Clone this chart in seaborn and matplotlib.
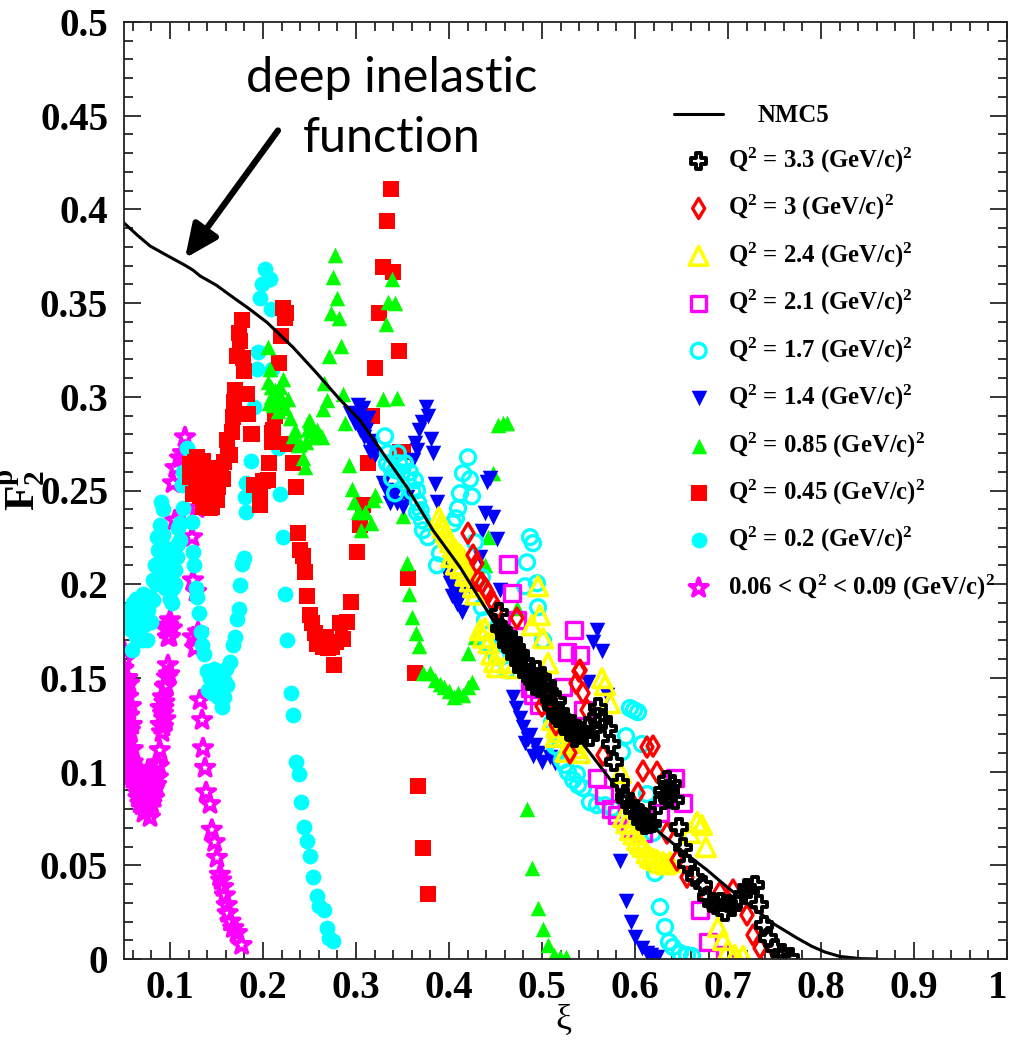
from matplotlib import pyplot as plt
from matplotlib import ticker
import pandas as pd
import seaborn as sns

# values, (xi, F2)
curve = [(0.05, 0.393), (0.065, 0.3862), (0.0785, 0.3805), (0.095, 0.3759), (0.1161, 0.3702), (0.125, 0.3675), (0.1323, 0.3645),
         (0.15, 0.3595), (0.1677, 0.3531), (0.185, 0.347), (0.2043, 0.3397), (0.2323, 0.3264), (0.258, 0.3125),
         (0.2806, 0.2997), (0.3043, 0.2875), (0.329, 0.2699), (0.3548, 0.2517), (0.3828, 0.2288), (0.4118, 0.2091),
         (0.4473, 0.1808), (0.475, 0.1605), (0.5, 0.143), (0.525, 0.127), (0.5516, 0.1099), (0.5763, 0.0939), (0.6, 0.081),
         (0.6269, 0.0672), (0.65, 0.058), (0.6774, 0.0475), (0.7, 0.038), (0.7204, 0.0299), (0.75, 0.0185), (0.7742, 0.0112),
         (0.79, 0.0068), (0.8043, 0.0037), (0.82, 0.0014), (0.842, 0.0002), (0.86, 0.0)]

stars = [(0.05, 0.165), (0.052, 0.16), (0.05, 0.155), (0.054, 0.15), (0.052, 0.145), (0.05, 0.14), (0.055, 0.14),
         (0.053, 0.135), (0.05, 0.13), (0.056, 0.13), (0.053, 0.125), (0.05, 0.12), (0.057, 0.122), (0.054, 0.115),
         (0.05, 0.11), (0.058, 0.112), (0.055, 0.105), (0.052, 0.1), (0.06, 0.105), (0.058, 0.098), (0.062, 0.1),
         (0.065, 0.097), (0.07, 0.09), (0.064, 0.092), (0.068, 0.1), (0.072, 0.098), (0.076, 0.1), (0.08, 0.099),
         (0.084, 0.098), (0.086, 0.1045), (0.066, 0.086), (0.07, 0.082), (0.074, 0.085), (0.078, 0.09), (0.082, 0.09),
         (0.072, 0.078), (0.076, 0.08), (0.0785, 0.0757), (0.08, 0.083), (0.085, 0.093), (0.089, 0.1115),
         (0.0914, 0.121), (0.0925, 0.131), (0.0925, 0.1397), (0.0946, 0.1451), (0.0968, 0.1504), (0.0978, 0.1568),
         (0.09, 0.134), (0.094, 0.137), (0.0978, 0.1717), (0.102, 0.1765), (0.1, 0.1808), (0.096, 0.176),
         (0.1032, 0.2539), (0.1054, 0.2341), (0.1108, 0.2672), (0.1161, 0.2784), (0.106, 0.262), (0.114, 0.27),
         (0.129, 0.2405), (0.1237, 0.2251), (0.1247, 0.2021), (0.128, 0.196), (0.1247, 0.1717), (0.1301, 0.1744),
         (0.127, 0.166), (0.1323, 0.1381), (0.1345, 0.1275), (0.1355, 0.1125), (0.1377, 0.102), (0.1388, 0.089),
         (0.143, 0.0827), (0.145, 0.069), (0.148, 0.0624), (0.1505, 0.054), (0.1537, 0.045), (0.157, 0.0384),
         (0.161, 0.0288), (0.162, 0.0245), (0.168, 0.0165), (0.172, 0.0139), (0.177, 0.0075), (0.155, 0.042),
         (0.159, 0.034), (0.165, 0.02), (0.051, 0.15), (0.056, 0.147), (0.051, 0.135), (0.058, 0.135), (0.052, 0.127),
         (0.059, 0.125), (0.051, 0.117), (0.055, 0.11), (0.053, 0.107), (0.06, 0.112), (0.056, 0.1), (0.06, 0.096),
         (0.063, 0.094), (0.067, 0.092), (0.069, 0.095), (0.071, 0.085), (0.073, 0.092), (0.075, 0.088), (0.077, 0.095),
         (0.079, 0.086), (0.081, 0.095), (0.083, 0.086), (0.074, 0.081), (0.068, 0.083), (0.087, 0.097), (0.088, 0.103),
         (0.0925, 0.124), (0.095, 0.128), (0.09, 0.125), (0.093, 0.134), (0.096, 0.146), (0.099, 0.152), (0.1, 0.172),
         (0.098, 0.178), (0.1, 0.176)]

dots = [(0.059, 0.165), (0.06, 0.181), (0.06, 0.19), (0.057, 0.176), (0.063, 0.172), (0.066, 0.18), (0.07, 0.17),
        (0.075, 0.17), (0.071, 0.195), (0.066, 0.19), (0.076, 0.186), (0.082, 0.1915), (0.072, 0.178), (0.058, 0.185),
        (0.068, 0.185), (0.08, 0.18), (0.0903, 0.2437), (0.092, 0.24), (0.089, 0.2315), (0.0925, 0.226), (0.087, 0.218),
        (0.0968, 0.2165), (0.084, 0.21), (0.082, 0.202), (0.092, 0.21), (0.096, 0.205), (0.099, 0.198), (0.1, 0.192),
        (0.09, 0.2), (0.102, 0.19), (0.103, 0.198), (0.1054, 0.2075), (0.1075, 0.2144), (0.111, 0.2235), (0.111, 0.2325),
        (0.1237, 0.233), (0.114, 0.2405), (0.113, 0.253), (0.114, 0.26), (0.1183, 0.2725), (0.1247, 0.217), (0.126, 0.21),
        (0.128, 0.198), (0.129, 0.193), (0.131, 0.1845), (0.133, 0.1744), (0.1345, 0.1675), (0.1365, 0.1627),
        (0.14, 0.1536), (0.141, 0.1435), (0.145, 0.142), (0.1484, 0.147), (0.152, 0.14), (0.156, 0.1344), (0.158, 0.14),
        (0.161, 0.146), (0.1645, 0.1584), (0.1677, 0.1675), (0.17, 0.172), (0.172, 0.1813), (0.174, 0.1867),
        (0.175, 0.1995), (0.177, 0.211), (0.1796, 0.2139), (0.182, 0.2384), (0.181, 0.2464), (0.182, 0.254), (0.187, 0.266),
        (0.19, 0.2944), (0.1935, 0.3147), (0.1946, 0.3237), (0.1968, 0.3525), (0.199, 0.36), (0.202, 0.368), (0.2075, 0.3627),
        (0.2086, 0.347), (0.2097, 0.315), (0.216, 0.2725), (0.218, 0.248), (0.2215, 0.225), (0.2237, 0.195), (0.226, 0.17),
        (0.23, 0.142), (0.232, 0.13), (0.2355, 0.105), (0.2387, 0.0987), (0.241, 0.0837), (0.244, 0.0704), (0.2473, 0.063),
        (0.2505, 0.055), (0.2538, 0.0437), (0.258, 0.0336), (0.26, 0.0283), (0.2656, 0.026), (0.2688, 0.0165), (0.271, 0.011),
        (0.275, 0.0096), (0.056, 0.18), (0.062, 0.183), (0.065, 0.175), (0.069, 0.18), (0.074, 0.19), (0.078, 0.18),
        (0.063, 0.192), (0.07, 0.187), (0.079, 0.193), (0.055, 0.186), (0.086, 0.225), (0.09, 0.215), (0.085, 0.2),
        (0.094, 0.22), (0.091, 0.205), (0.097, 0.21), (0.105, 0.2), (0.108, 0.221), (0.109, 0.23), (0.095, 0.198),
        (0.143, 0.15), (0.147, 0.155), (0.15, 0.145), (0.153, 0.148), (0.155, 0.142), (0.158, 0.149), (0.16, 0.155)]

red_squares = [(0.3375, 0.4107), (0.3333, 0.3936), (0.329, 0.369), (0.3395, 0.3664), (0.3247, 0.3445), (0.3462, 0.3243),
               (0.3204, 0.3152), (0.3172, 0.29), (0.3473, 0.2704), (0.313, 0.2645), (0.3505, 0.2704), (0.1774, 0.3408),
               (0.1742, 0.334), (0.175, 0.33), (0.172, 0.3216), (0.1785, 0.3205), (0.1796, 0.314), (0.17, 0.3035),
               (0.1828, 0.3013), (0.169, 0.297), (0.1677, 0.289), (0.1839, 0.2907), (0.1667, 0.281), (0.1613, 0.2768),
               (0.1624, 0.2688), (0.188, 0.28), (0.2215, 0.3472), (0.2247, 0.3445), (0.2237, 0.342), (0.2194, 0.3323),
               (0.2172, 0.318), (0.213, 0.2896), (0.2108, 0.2821), (0.2097, 0.2757), (0.2269, 0.275), (0.2065, 0.2645),
               (0.2323, 0.2645), (0.122, 0.264), (0.127, 0.265), (0.129, 0.268), (0.135, 0.26), (0.14, 0.262), (0.145, 0.26),
               (0.122, 0.257), (0.128, 0.255), (0.135, 0.253), (0.14, 0.252), (0.147, 0.254), (0.125, 0.248), (0.132, 0.247),
               (0.139, 0.245), (0.145, 0.247), (0.135, 0.241), (0.1645, 0.2688), (0.187, 0.28), (0.2097, 0.2805),
               (0.2355, 0.2517), (0.2054, 0.2555), (0.19, 0.2528), (0.1968, 0.249), (0.1968, 0.2421), (0.2376, 0.2272),
               (0.24, 0.218), (0.243, 0.215), (0.2452, 0.2064), (0.2473, 0.1936), (0.2505, 0.1835), (0.2527, 0.1792),
               (0.256, 0.1739), (0.2613, 0.169), (0.2645, 0.1664), (0.2742, 0.1664), (0.286, 0.1707), (0.2828, 0.1792),
               (0.2903, 0.1797), (0.2946, 0.1904), (0.2763, 0.1568), (0.3011, 0.217), (0.3075, 0.2421), (0.3043, 0.2315),
               (0.356, 0.2032), (0.3634, 0.1525), (0.3667, 0.0923), (0.372, 0.0592), (0.3774, 0.0347), (0.131, 0.262),
               (0.136, 0.266), (0.125, 0.26), (0.142, 0.256), (0.13, 0.251), (0.137, 0.249), (0.268, 0.172), (0.27, 0.166),
               (0.278, 0.169), (0.258, 0.168), (0.2, 0.255), (0.15, 0.26), (0.155, 0.262), (0.158, 0.265), (0.152, 0.252),
               (0.157, 0.256), (0.15, 0.245), (0.145, 0.241), (0.143, 0.2405)]

green = [(0.2774, 0.3755), (0.2753, 0.3637), (0.2796, 0.3525), (0.2731, 0.3445), (0.2817, 0.342), (0.2839, 0.327),
         (0.271, 0.3216), (0.3387, 0.3627), (0.3344, 0.3504), (0.342, 0.35), (0.3323, 0.3387), (0.329, 0.2987), (0.344, 0.2992),
         (0.2054, 0.3264), (0.2075, 0.3147), (0.2215, 0.3093), (0.2054, 0.3077), (0.209, 0.305), (0.218, 0.305),
         (0.2086, 0.2997), (0.2269, 0.2987), (0.215, 0.299), (0.2108, 0.2955), (0.2237, 0.2939), (0.229, 0.2885),
         (0.2495, 0.2875), (0.2344, 0.2821), (0.248, 0.283), (0.2613, 0.2795), (0.255, 0.2785), (0.2398, 0.275), (0.243, 0.2672),
         (0.2452, 0.2624), (0.2656, 0.3072), (0.2688, 0.2981), (0.2645, 0.2933), (0.286, 0.3013), (0.2925, 0.2635),
         (0.2882, 0.2859), (0.2505, 0.2864), (0.2635, 0.2784), (0.2957, 0.2507), (0.2978, 0.2437), (0.3204, 0.2475),
         (0.3183, 0.245), (0.3022, 0.2384), (0.3097, 0.2384), (0.3161, 0.2325), (0.3054, 0.2288), (0.3505, 0.2363),
         (0.4527, 0.2848), (0.458, 0.2859), (0.4624, 0.2859), (0.4473, 0.2592), (0.442, 0.225), (0.4387, 0.21),
         (0.3548, 0.2112), (0.357, 0.1947), (0.3602, 0.1824), (0.3645, 0.1739), (0.3677, 0.1669), (0.372, 0.1525),
         (0.3796, 0.1525), (0.385, 0.149), (0.39, 0.147), (0.395, 0.145), (0.4, 0.143), (0.405, 0.14), (0.41, 0.142),
         (0.415, 0.141), (0.42, 0.145), (0.425, 0.148), (0.4204, 0.1632), (0.428, 0.1717), (0.473, 0.1872),
         (0.4839, 0.08), (0.4892, 0.0485), (0.4957, 0.0272), (0.5011, 0.016), (0.5065, 0.0075), (0.5129, 0.002),
         (0.5194, 0.001), (0.5258, 0.001), (0.2065, 0.2965), (0.2125, 0.3035), (0.2165, 0.2925), (0.2205, 0.2985),
         (0.2325, 0.279), (0.2375, 0.2745), (0.252, 0.2815), (0.2465, 0.276), (0.2585, 0.2825)]

blue = [(0.3075, 0.2939), (0.2935, 0.2912), (0.3129, 0.2885), (0.2989, 0.2859), (0.3043, 0.2821), (0.3172, 0.2741),
        (0.3204, 0.2688), (0.3613, 0.2661), (0.3753, 0.2944), (0.3774, 0.29), (0.371, 0.2864), (0.3677, 0.2821),
        (0.3806, 0.2773), (0.3634, 0.2752), (0.3656, 0.2715), (0.3828, 0.2699), (0.385, 0.2533), (0.3871, 0.2437),
        (0.329, 0.2539), (0.3366, 0.2432), (0.3505, 0.2411), (0.342, 0.2485), (0.3548, 0.2464), (0.444, 0.2565),
        (0.4409, 0.2544), (0.4387, 0.2379), (0.4473, 0.2357), (0.4355, 0.2283), (0.4516, 0.224), (0.4333, 0.2144),
        (0.399, 0.2085), (0.4011, 0.2005), (0.4065, 0.1968), (0.415, 0.1979), (0.4097, 0.1925), (0.4226, 0.1979),
        (0.414, 0.1851), (0.4548, 0.1968), (0.4688, 0.1397), (0.472, 0.1339), (0.4763, 0.1285), (0.4796, 0.1237),
        (0.4871, 0.1195), (0.4817, 0.1152), (0.4925, 0.1141), (0.4957, 0.1099), (0.5, 0.1051), (0.5086, 0.1077),
        (0.514, 0.1045), (0.5591, 0.1755), (0.5548, 0.1691), (0.5645, 0.1643), (0.5495, 0.1477), (0.5699, 0.1408),
        (0.5839, 0.0523), (0.5903, 0.0309), (0.5957, 0.0197), (0.6, 0.0117), (0.6075, 0.0059), (0.6129, 0.0032),
        (0.617, 0.002), (0.6237, 0.001), (0.3005, 0.2905), (0.3025, 0.2955), (0.3065, 0.2875), (0.3105, 0.2825),
        (0.3085, 0.2785), (0.3135, 0.2765), (0.3155, 0.2705), (0.3325, 0.2505), (0.3385, 0.2465), (0.3445, 0.2435),
        (0.3985, 0.2045), (0.4035, 0.1935), (0.4085, 0.1895), (0.4125, 0.1935), (0.4845, 0.1175), (0.4905, 0.1085)]

open_circles = [(0.3312, 0.2789), (0.3344, 0.2699), (0.345, 0.2699), (0.3333, 0.2645), (0.3527, 0.2645), (0.342, 0.2608),
                (0.358, 0.2597), (0.3387, 0.2565), (0.3634, 0.2555), (0.342, 0.2485), (0.3656, 0.2501), (0.3667, 0.2437),
                (0.3656, 0.2384), (0.371, 0.2341), (0.372, 0.2288), (0.3774, 0.2251), (0.3871, 0.2101), (0.3903, 0.2165),
                (0.4204, 0.2677), (0.415, 0.2592), (0.4226, 0.256), (0.4118, 0.2485), (0.4247, 0.2469), (0.4097, 0.2405),
                (0.4075, 0.2352), (0.4043, 0.2325), (0.428, 0.2224), (0.4871, 0.2251), (0.4903, 0.2219), (0.4839, 0.2117),
                (0.4817, 0.1989), (0.4946, 0.2005), (0.4957, 0.1877), (0.5011, 0.1701), (0.4355, 0.2037), (0.4355, 0.1877),
                (0.4387, 0.1808), (0.442, 0.1685), (0.4516, 0.1611), (0.4624, 0.1541), (0.5946, 0.1339), (0.5989, 0.1328),
                (0.6032, 0.1317), (0.5903, 0.1189), (0.6075, 0.1147), (0.586, 0.1104), (0.6129, 0.088), (0.5108, 0.1264),
                (0.514, 0.1136), (0.5215, 0.1061), (0.528, 0.0997), (0.5376, 0.0987), (0.5387, 0.0928), (0.5441, 0.0912),
                (0.5516, 0.0837), (0.5591, 0.0821), (0.5677, 0.0821), (0.5753, 0.0805), (0.6194, 0.0672), (0.6215, 0.0459),
                (0.6269, 0.0277), (0.6323, 0.0171), (0.6366, 0.0091), (0.6409, 0.0064), (0.6484, 0.0032), (0.6559, 0.0021),
                (0.6613, 0.0016), (0.3375, 0.2625), (0.3465, 0.2645), (0.3495, 0.2595), (0.3555, 0.2555), (0.3605, 0.2495),
                (0.3695, 0.2395), (0.5185, 0.1125), (0.5245, 0.1035), (0.5335, 0.0955)]

open_squares = [(0.4634, 0.2107), (0.4677, 0.1952), (0.473, 0.1808), (0.5344, 0.1755), (0.5269, 0.1637), (0.5409, 0.1621),
                (0.4871, 0.1445), (0.4903, 0.1408), (0.4968, 0.1355), (0.5226, 0.1451), (0.5441, 0.1328), (0.5591, 0.0965),
                (0.5667, 0.0875), (0.5742, 0.08), (0.5806, 0.0768), (0.5946, 0.0699), (0.6086, 0.0672), (0.643, 0.0965),
                (0.6516, 0.0832), (0.6269, 0.0779), (0.67, 0.0261), (0.6785, 0.0091), (0.6968, 0.0021)]

open_triangles = [(0.3892, 0.2357), (0.3935, 0.2301), (0.399, 0.2251), (0.4043, 0.2197), (0.4097, 0.2165), (0.415, 0.2139),
                  (0.4204, 0.2059), (0.4258, 0.1984), (0.4957, 0.1989), (0.4978, 0.1835), (0.4892, 0.1781), (0.5011, 0.1712),
                  (0.5065, 0.1579), (0.4387, 0.1765), (0.4333, 0.1755), (0.4548, 0.1648), (0.4634, 0.1579), (0.4688, 0.1552),
                  (0.4516, 0.1557), (0.5108, 0.1275), (0.5194, 0.1211), (0.5301, 0.1152), (0.5409, 0.1099), (0.5645, 0.1499),
                  (0.5677, 0.1461), (0.5731, 0.1365), (0.5849, 0.0992), (0.6667, 0.0731), (0.672, 0.0715), (0.6591, 0.0672),
                  (0.6763, 0.0597), (0.5871, 0.0757), (0.5946, 0.0688), (0.6022, 0.0635), (0.6086, 0.0597), (0.6161, 0.0544),
                  (0.6237, 0.0528), (0.6301, 0.0517), (0.6376, 0.0517), (0.6892, 0.0171), (0.6946, 0.0101), (0.7, 0.0048),
                  (0.7075, 0.0021), (0.7161, 0.0016), (0.3915, 0.2325), (0.3965, 0.2275), (0.4015, 0.2225), (0.4065, 0.2185),
                  (0.4025, 0.2145), (0.4075, 0.2105), (0.4125, 0.2085), (0.4175, 0.2045), (0.4225, 0.2015), (0.4125, 0.2155),
                  (0.4285, 0.1945), (0.4365, 0.1715), (0.4425, 0.1685), (0.4455, 0.1625), (0.4485, 0.1585), (0.5155, 0.1235),
                  (0.5245, 0.1185), (0.5355, 0.1125), (0.5145, 0.1185), (0.5255, 0.1105), (0.5905, 0.0725), (0.5985, 0.0665),
                  (0.6055, 0.0615), (0.6125, 0.0565), (0.6195, 0.0535), (0.6265, 0.0515), (0.6335, 0.0505)]

diamonds = [(0.4204, 0.2272), (0.4258, 0.2155), (0.43, 0.2112), (0.4312, 0.2021), (0.442, 0.1952), (0.4473, 0.1904),
            (0.455, 0.178), (0.473, 0.1819), (0.47, 0.165), (0.485, 0.15), (0.49, 0.152), (0.5, 0.135), (0.5054, 0.1365),
            (0.515, 0.125), (0.52, 0.128), (0.53, 0.11), (0.5409, 0.1541), (0.5398, 0.1536), (0.5366, 0.1472), (0.5441, 0.1419),
            (0.5484, 0.1328), (0.5656, 0.1088), (0.6129, 0.1131), (0.6194, 0.1136), (0.6086, 0.1003), (0.6237, 0.0997),
            (0.6032, 0.0885), (0.6344, 0.0672), (0.6452, 0.0528), (0.6559, 0.0437), (0.6774, 0.0331), (0.6914, 0.0357),
            (0.7054, 0.0368), (0.7204, 0.0235), (0.7269, 0.0128), (0.7344, 0.0059), (0.7419, 0.001), (0.4355, 0.2005),
            (0.4395, 0.1975), (0.4505, 0.1855), (0.4785, 0.1625), (0.4965, 0.1485), (0.5085, 0.1395)]

crosses = [(0.4538, 0.1851), (0.4548, 0.1765), (0.46, 0.172), (0.462, 0.168), (0.4688, 0.1701), (0.472, 0.166),
           (0.4763, 0.1632), (0.48, 0.158), (0.485, 0.152), (0.49, 0.148), (0.4946, 0.1541), (0.5, 0.145), (0.505, 0.142),
           (0.5054, 0.1472), (0.51, 0.135), (0.515, 0.13), (0.5161, 0.1381), (0.52, 0.132), (0.525, 0.128), (0.5269, 0.1259),
           (0.53, 0.122), (0.535, 0.118), (0.5409, 0.1211), (0.545, 0.12), (0.5516, 0.1184), (0.5602, 0.1344), (0.5591, 0.1291),
           (0.5656, 0.1275), (0.571, 0.1232), (0.5742, 0.1147), (0.5774, 0.1051), (0.5839, 0.0939), (0.5892, 0.0864),
           (0.59, 0.085), (0.5978, 0.0795), (0.6, 0.08), (0.605, 0.078), (0.6086, 0.0757), (0.612, 0.075), (0.615, 0.072),
           (0.6183, 0.0725), (0.6344, 0.0955), (0.6376, 0.0901), (0.6301, 0.0901), (0.643, 0.0848), (0.6247, 0.0821),
           (0.6473, 0.0704), (0.6516, 0.0597), (0.6559, 0.0507), (0.6645, 0.0437), (0.6731, 0.0395), (0.6774, 0.0331),
           (0.6828, 0.0299), (0.6968, 0.0251), (0.7043, 0.0277), (0.7108, 0.0315), (0.7204, 0.0379), (0.729, 0.0395),
           (0.7333, 0.0293), (0.7387, 0.0181), (0.7431, 0.0112), (0.7505, 0.0059), (0.7581, 0.0032), (0.7667, 0.001),
           (0.4585, 0.1755), (0.4635, 0.1725), (0.4665, 0.1655), (0.4705, 0.1615), (0.4745, 0.1585), (0.4785, 0.1545),
           (0.4825, 0.1585), (0.4875, 0.1495), (0.4925, 0.1455), (0.4975, 0.1505), (0.5025, 0.1415), (0.5075, 0.1425),
           (0.5125, 0.1345), (0.5175, 0.1285), (0.5225, 0.1255), (0.5285, 0.1215), (0.5325, 0.1255), (0.5385, 0.1195),
           (0.5485, 0.1245), (0.5555, 0.1225), (0.5945, 0.0825), (0.6025, 0.0765), (0.6065, 0.0735), (0.6105, 0.0715),
           (0.6355, 0.0855), (0.6405, 0.0935), (0.6865, 0.0285), (0.6915, 0.0305), (0.7005, 0.0295), (0.7165, 0.0345)]

x_ticks = [0.1, 0.2, 0.3, 0.4, 0.5, 0.6, 0.7, 0.8, 0.9, 1.0]
x_labels = ['0.1', '0.2', '0.3', '0.4', '0.5', '0.6', '0.7', '0.8', '0.9', '1']
y_ticks = [0, 0.05, 0.1, 0.15, 0.2, 0.25, 0.3, 0.35, 0.4, 0.45, 0.5]
y_labels = ['0', '0.05', '0.1', '0.15', '0.2', '0.25', '0.3', '0.35', '0.4', '0.45', '0.5']

# drawing order is bottom to top: (data, label, marker, colour, size, filled, edge width)
series = [
    (stars, r'0.06 < Q$^{\mathbf{2}}$ < 0.09 (GeV/c)$^{\mathbf{2}}$', '*', '#ff00ff', 190, False, 2.8),
    (dots, r'Q$^{\mathbf{2}}$ = 0.2 (GeV/c)$^{\mathbf{2}}$', 'o', '#00ffff', 130, True, 0),
    (red_squares, r'Q$^{\mathbf{2}}$ = 0.45 (GeV/c)$^{\mathbf{2}}$', 's', '#ff0000', 118, True, 0),
    (green, r'Q$^{\mathbf{2}}$ = 0.85 (GeV/c)$^{\mathbf{2}}$', '^', '#00ff00', 125, True, 0),
    (blue, r'Q$^{\mathbf{2}}$ = 1.4 (GeV/c)$^{\mathbf{2}}$', 'v', '#0000ff', 125, True, 0),
    (open_circles, r'Q$^{\mathbf{2}}$ = 1.7 (GeV/c)$^{\mathbf{2}}$', 'o', '#00ffff', 115, False, 2.4),
    (open_squares, r'Q$^{\mathbf{2}}$ = 2.1 (GeV/c)$^{\mathbf{2}}$', 's', '#ff00ff', 125, False, 2.4),
    (open_triangles, r'Q$^{\mathbf{2}}$ = 2.4 (GeV/c)$^{\mathbf{2}}$', '^', '#ffff00', 180, False, 2.6),
    (diamonds, r'Q$^{\mathbf{2}}$ = 3 (GeV/c)$^{\mathbf{2}}$', 'd', '#ff0000', 105, False, 2.4),
    (crosses, r'Q$^{\mathbf{2}}$ = 3.3 (GeV/c)$^{\mathbf{2}}$', 'P', '#000000', 125, False, 2.8),
]

sns.set_style('ticks')
plt.rcParams['font.family'] = ['Liberation Serif', 'DejaVu Serif']
plt.rcParams['font.weight'] = 'bold'
plt.rcParams['text.color'] = 'black'
plt.rcParams['mathtext.fontset'] = 'custom'
plt.rcParams['mathtext.bf'] = 'Liberation Serif:bold'
plt.rcParams['mathtext.rm'] = 'Liberation Serif:bold'
plt.rcParams['mathtext.it'] = 'Liberation Serif:bold'

fig = plt.figure(figsize=(10.1, 10.4), dpi=100)
ax = fig.add_axes([123.5 / 1010, 1 - 959 / 1040, (1007 - 123.5) / 1010, (959 - 22) / 1040])

handles = {}
for data, label, marker, color, size, filled, width in series:
    df = pd.DataFrame(data, columns=['xi', 'f2'])
    if filled:
        sns.scatterplot(df, x='xi', y='f2', ax=ax, marker=marker, color=color, s=size, linewidth=0, legend=False)
    else:
        sns.scatterplot(df, x='xi', y='f2', ax=ax, marker=marker, s=size, facecolors='none', edgecolor=color,
                        linewidth=width, legend=False)
    handles[label] = ax.collections[-1]

df = pd.DataFrame(curve, columns=['xi', 'f2'])
sns.lineplot(df, x='xi', y='f2', ax=ax, color='black', linewidth=2.2, sort=False, errorbar=None, legend=False)
line = ax.lines[-1]

ax.set_xlim(0.05, 1.0)
ax.set_ylim(0, 0.5)
ax.set_xticks(x_ticks, x_labels, fontsize=28, fontweight='bold', color='black')
ax.set_yticks(y_ticks, y_labels, fontsize=28, fontweight='bold', color='black')
ax.get_xticklabels()[-1].set_ha('right')
ax.xaxis.set_minor_locator(ticker.MultipleLocator(0.02))
ax.yaxis.set_minor_locator(ticker.MultipleLocator(0.01))
ax.tick_params(which='major', direction='in', length=12.5, width=1.1, top=True, right=True, color='black')
ax.tick_params(which='minor', direction='in', length=6.5, width=1.1, top=True, right=True, color='black')
ax.tick_params(axis='x', which='major', pad=8)
ax.tick_params(axis='y', which='major', pad=11)
for spine in ax.spines.values():
    spine.set_linewidth(1.3)
    spine.set_color('#222222')

ax.set_xlabel('ξ', fontsize=26, fontweight='normal', va='center', color='black')
ax.set_ylabel(r'$\mathbf{F_2^p}$', fontsize=30, va='center', color='black')
ax.xaxis.set_label_coords((563 - 123.5) / 883.5, -0.0655)
ax.yaxis.set_label_coords(-0.114, (959 - 490) / 937)

labels = ['NMC5'] + [s[1] for s in reversed(series)]
legend_handles = [line] + [handles[s[1]] for s in reversed(series)]
legend = ax.legend(legend_handles, labels, loc='upper left', bbox_to_anchor=(0.623, 0.912), frameon=False,
                   borderpad=0, borderaxespad=0, handlelength=2.0, handletextpad=0.2, labelspacing=0.74, scatterpoints=1,
                   prop={'family': 'Liberation Serif', 'weight': 'bold', 'size': 17.8})
for text in legend.get_texts():
    text.set_color('black')
legend.get_texts()[0].set_position((29, 0))

ax.text(0.3387, 0.4539, 'deep inelastic\nfunction', family='Lato', fontweight='normal', fontsize=35, color='black',
        ha='center', va='center', linespacing=1.45)
ax.annotate('', xy=(0.1161, 0.3739), xytext=(0.2161, 0.4421),
            arrowprops={'arrowstyle': '-|>,head_width=0.45,head_length=1.0', 'lw': 4.5, 'color': 'black',
                        'mutation_scale': 20, 'shrinkA': 0, 'shrinkB': 0})

fig.savefig('out.png', dpi=100)
